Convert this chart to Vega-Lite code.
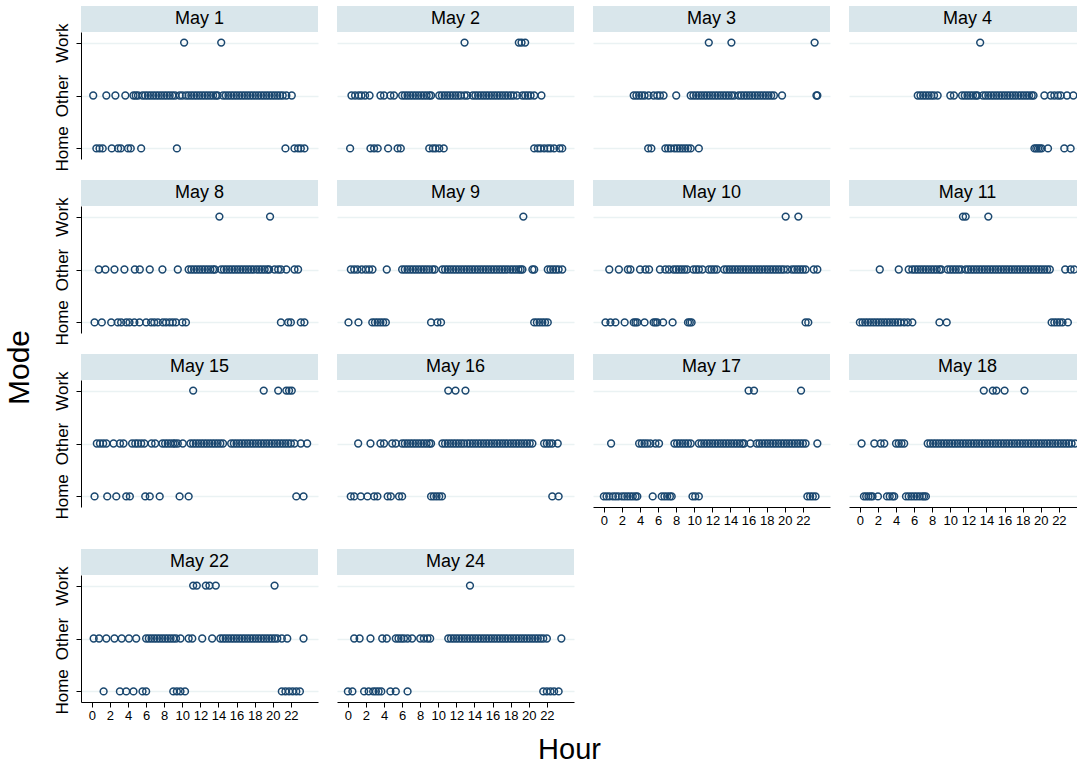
{
"$schema":"https://vega.github.io/schema/vega-lite/v6.json",
"padding":{"left":5,"top":5,"right":0,"bottom":5},
"background":"white",
"title":{"text":"Mode","orient":"left","anchor":"middle","font":"Liberation Sans","fontSize":30,"fontWeight":"normal","color":"black","offset":18,"dx":18},
"data":{"values":[
{"d":"May 1","m":"Work","h":10.2},{"d":"May 1","m":"Work","h":14.3},
{"d":"May 1","m":"Other","h":0.15},{"d":"May 1","m":"Other","h":1.6},{"d":"May 1","m":"Other","h":2.6},{"d":"May 1","m":"Other","h":3.7},{"d":"May 1","m":"Other","h":4.6},{"d":"May 1","m":"Other","h":4.85},{"d":"May 1","m":"Other","h":5.1},{"d":"May 1","m":"Other","h":5.6},{"d":"May 1","m":"Other","h":5.9},{"d":"May 1","m":"Other","h":6.2},{"d":"May 1","m":"Other","h":6.5},{"d":"May 1","m":"Other","h":6.8},{"d":"May 1","m":"Other","h":7.1},{"d":"May 1","m":"Other","h":7.4},{"d":"May 1","m":"Other","h":7.7},{"d":"May 1","m":"Other","h":8.0},{"d":"May 1","m":"Other","h":8.3},{"d":"May 1","m":"Other","h":8.6},{"d":"May 1","m":"Other","h":8.9},{"d":"May 1","m":"Other","h":9.2},{"d":"May 1","m":"Other","h":9.7},{"d":"May 1","m":"Other","h":10.0},{"d":"May 1","m":"Other","h":10.4},{"d":"May 1","m":"Other","h":10.7},{"d":"May 1","m":"Other","h":11.0},{"d":"May 1","m":"Other","h":11.3},{"d":"May 1","m":"Other","h":11.6},{"d":"May 1","m":"Other","h":11.9},{"d":"May 1","m":"Other","h":12.2},{"d":"May 1","m":"Other","h":12.5},{"d":"May 1","m":"Other","h":12.8},{"d":"May 1","m":"Other","h":13.1},{"d":"May 1","m":"Other","h":13.4},{"d":"May 1","m":"Other","h":13.7},{"d":"May 1","m":"Other","h":13.9},{"d":"May 1","m":"Other","h":14.5},{"d":"May 1","m":"Other","h":14.8},{"d":"May 1","m":"Other","h":15.1},{"d":"May 1","m":"Other","h":15.4},{"d":"May 1","m":"Other","h":15.7},{"d":"May 1","m":"Other","h":16.0},{"d":"May 1","m":"Other","h":16.3},{"d":"May 1","m":"Other","h":16.6},{"d":"May 1","m":"Other","h":16.9},{"d":"May 1","m":"Other","h":17.2},{"d":"May 1","m":"Other","h":17.5},{"d":"May 1","m":"Other","h":17.8},{"d":"May 1","m":"Other","h":18.1},{"d":"May 1","m":"Other","h":18.4},{"d":"May 1","m":"Other","h":18.7},{"d":"May 1","m":"Other","h":19.0},{"d":"May 1","m":"Other","h":19.3},{"d":"May 1","m":"Other","h":19.6},{"d":"May 1","m":"Other","h":19.9},{"d":"May 1","m":"Other","h":20.2},{"d":"May 1","m":"Other","h":20.5},{"d":"May 1","m":"Other","h":20.8},{"d":"May 1","m":"Other","h":21.1},{"d":"May 1","m":"Other","h":21.5},{"d":"May 1","m":"Other","h":22.1},
{"d":"May 1","m":"Home","h":0.5},{"d":"May 1","m":"Home","h":0.85},{"d":"May 1","m":"Home","h":1.2},{"d":"May 1","m":"Home","h":2.2},{"d":"May 1","m":"Home","h":2.9},{"d":"May 1","m":"Home","h":3.2},{"d":"May 1","m":"Home","h":4.0},{"d":"May 1","m":"Home","h":4.3},{"d":"May 1","m":"Home","h":5.45},{"d":"May 1","m":"Home","h":9.4},{"d":"May 1","m":"Home","h":21.4},{"d":"May 1","m":"Home","h":22.4},{"d":"May 1","m":"Home","h":22.8},{"d":"May 1","m":"Home","h":23.1},{"d":"May 1","m":"Home","h":23.5},
{"d":"May 2","m":"Work","h":12.9},{"d":"May 2","m":"Work","h":18.9},{"d":"May 2","m":"Work","h":19.2},{"d":"May 2","m":"Work","h":19.6},
{"d":"May 2","m":"Other","h":0.4},{"d":"May 2","m":"Other","h":0.8},{"d":"May 2","m":"Other","h":1.2},{"d":"May 2","m":"Other","h":1.5},{"d":"May 2","m":"Other","h":1.9},{"d":"May 2","m":"Other","h":2.4},{"d":"May 2","m":"Other","h":3.6},{"d":"May 2","m":"Other","h":4.0},{"d":"May 2","m":"Other","h":4.7},{"d":"May 2","m":"Other","h":5.1},{"d":"May 2","m":"Other","h":6.0},{"d":"May 2","m":"Other","h":6.3},{"d":"May 2","m":"Other","h":6.6},{"d":"May 2","m":"Other","h":6.9},{"d":"May 2","m":"Other","h":7.2},{"d":"May 2","m":"Other","h":7.5},{"d":"May 2","m":"Other","h":7.8},{"d":"May 2","m":"Other","h":8.1},{"d":"May 2","m":"Other","h":8.4},{"d":"May 2","m":"Other","h":8.7},{"d":"May 2","m":"Other","h":9.0},{"d":"May 2","m":"Other","h":9.2},{"d":"May 2","m":"Other","h":10.1},{"d":"May 2","m":"Other","h":10.4},{"d":"May 2","m":"Other","h":10.7},{"d":"May 2","m":"Other","h":11.0},{"d":"May 2","m":"Other","h":11.3},{"d":"May 2","m":"Other","h":11.6},{"d":"May 2","m":"Other","h":11.9},{"d":"May 2","m":"Other","h":12.2},{"d":"May 2","m":"Other","h":12.5},{"d":"May 2","m":"Other","h":12.9},{"d":"May 2","m":"Other","h":13.2},{"d":"May 2","m":"Other","h":13.8},{"d":"May 2","m":"Other","h":14.1},{"d":"May 2","m":"Other","h":14.4},{"d":"May 2","m":"Other","h":14.7},{"d":"May 2","m":"Other","h":15.0},{"d":"May 2","m":"Other","h":15.3},{"d":"May 2","m":"Other","h":15.6},{"d":"May 2","m":"Other","h":15.9},{"d":"May 2","m":"Other","h":16.2},{"d":"May 2","m":"Other","h":16.5},{"d":"May 2","m":"Other","h":16.8},{"d":"May 2","m":"Other","h":17.1},{"d":"May 2","m":"Other","h":17.4},{"d":"May 2","m":"Other","h":17.7},{"d":"May 2","m":"Other","h":18.0},{"d":"May 2","m":"Other","h":18.3},{"d":"May 2","m":"Other","h":18.7},{"d":"May 2","m":"Other","h":19.3},{"d":"May 2","m":"Other","h":19.6},{"d":"May 2","m":"Other","h":19.9},{"d":"May 2","m":"Other","h":20.2},{"d":"May 2","m":"Other","h":20.6},{"d":"May 2","m":"Other","h":21.4},
{"d":"May 2","m":"Home","h":0.25},{"d":"May 2","m":"Home","h":2.5},{"d":"May 2","m":"Home","h":2.9},{"d":"May 2","m":"Home","h":3.3},{"d":"May 2","m":"Home","h":4.45},{"d":"May 2","m":"Home","h":5.5},{"d":"May 2","m":"Home","h":5.85},{"d":"May 2","m":"Home","h":9.0},{"d":"May 2","m":"Home","h":9.4},{"d":"May 2","m":"Home","h":9.7},{"d":"May 2","m":"Home","h":10.1},{"d":"May 2","m":"Home","h":10.6},{"d":"May 2","m":"Home","h":20.6},{"d":"May 2","m":"Home","h":21.0},{"d":"May 2","m":"Home","h":21.3},{"d":"May 2","m":"Home","h":21.7},{"d":"May 2","m":"Home","h":22.1},{"d":"May 2","m":"Home","h":22.4},{"d":"May 2","m":"Home","h":22.8},{"d":"May 2","m":"Home","h":23.4},{"d":"May 2","m":"Home","h":23.7},
{"d":"May 3","m":"Work","h":11.6},{"d":"May 3","m":"Work","h":14.1},{"d":"May 3","m":"Work","h":23.3},
{"d":"May 3","m":"Other","h":3.3},{"d":"May 3","m":"Other","h":3.6},{"d":"May 3","m":"Other","h":3.9},{"d":"May 3","m":"Other","h":4.2},{"d":"May 3","m":"Other","h":4.5},{"d":"May 3","m":"Other","h":4.95},{"d":"May 3","m":"Other","h":5.5},{"d":"May 3","m":"Other","h":5.9},{"d":"May 3","m":"Other","h":6.2},{"d":"May 3","m":"Other","h":6.6},{"d":"May 3","m":"Other","h":8.0},{"d":"May 3","m":"Other","h":9.6},{"d":"May 3","m":"Other","h":9.9},{"d":"May 3","m":"Other","h":10.2},{"d":"May 3","m":"Other","h":10.5},{"d":"May 3","m":"Other","h":10.8},{"d":"May 3","m":"Other","h":11.1},{"d":"May 3","m":"Other","h":11.4},{"d":"May 3","m":"Other","h":11.7},{"d":"May 3","m":"Other","h":12.0},{"d":"May 3","m":"Other","h":12.3},{"d":"May 3","m":"Other","h":12.6},{"d":"May 3","m":"Other","h":12.9},{"d":"May 3","m":"Other","h":13.2},{"d":"May 3","m":"Other","h":13.5},{"d":"May 3","m":"Other","h":13.8},{"d":"May 3","m":"Other","h":14.1},{"d":"May 3","m":"Other","h":14.4},{"d":"May 3","m":"Other","h":14.9},{"d":"May 3","m":"Other","h":15.2},{"d":"May 3","m":"Other","h":15.5},{"d":"May 3","m":"Other","h":15.8},{"d":"May 3","m":"Other","h":16.1},{"d":"May 3","m":"Other","h":16.4},{"d":"May 3","m":"Other","h":16.7},{"d":"May 3","m":"Other","h":17.0},{"d":"May 3","m":"Other","h":17.3},{"d":"May 3","m":"Other","h":17.6},{"d":"May 3","m":"Other","h":17.9},{"d":"May 3","m":"Other","h":18.2},{"d":"May 3","m":"Other","h":18.5},{"d":"May 3","m":"Other","h":18.8},{"d":"May 3","m":"Other","h":19.7},{"d":"May 3","m":"Other","h":23.5},{"d":"May 3","m":"Other","h":23.6},
{"d":"May 3","m":"Home","h":4.9},{"d":"May 3","m":"Home","h":5.25},{"d":"May 3","m":"Home","h":6.8},{"d":"May 3","m":"Home","h":7.1},{"d":"May 3","m":"Home","h":7.4},{"d":"May 3","m":"Home","h":7.8},{"d":"May 3","m":"Home","h":8.1},{"d":"May 3","m":"Home","h":8.4},{"d":"May 3","m":"Home","h":8.7},{"d":"May 3","m":"Home","h":9.0},{"d":"May 3","m":"Home","h":9.3},{"d":"May 3","m":"Home","h":9.6},{"d":"May 3","m":"Home","h":10.5},
{"d":"May 4","m":"Work","h":13.3},
{"d":"May 4","m":"Other","h":6.4},{"d":"May 4","m":"Other","h":6.7},{"d":"May 4","m":"Other","h":7.0},{"d":"May 4","m":"Other","h":7.3},{"d":"May 4","m":"Other","h":7.6},{"d":"May 4","m":"Other","h":7.9},{"d":"May 4","m":"Other","h":8.2},{"d":"May 4","m":"Other","h":8.6},{"d":"May 4","m":"Other","h":10.0},{"d":"May 4","m":"Other","h":10.4},{"d":"May 4","m":"Other","h":11.3},{"d":"May 4","m":"Other","h":11.6},{"d":"May 4","m":"Other","h":11.9},{"d":"May 4","m":"Other","h":12.2},{"d":"May 4","m":"Other","h":12.5},{"d":"May 4","m":"Other","h":12.8},{"d":"May 4","m":"Other","h":13.0},{"d":"May 4","m":"Other","h":13.6},{"d":"May 4","m":"Other","h":13.9},{"d":"May 4","m":"Other","h":14.2},{"d":"May 4","m":"Other","h":14.5},{"d":"May 4","m":"Other","h":14.8},{"d":"May 4","m":"Other","h":15.1},{"d":"May 4","m":"Other","h":15.4},{"d":"May 4","m":"Other","h":15.7},{"d":"May 4","m":"Other","h":16.0},{"d":"May 4","m":"Other","h":16.3},{"d":"May 4","m":"Other","h":16.6},{"d":"May 4","m":"Other","h":16.9},{"d":"May 4","m":"Other","h":17.2},{"d":"May 4","m":"Other","h":17.5},{"d":"May 4","m":"Other","h":17.8},{"d":"May 4","m":"Other","h":18.1},{"d":"May 4","m":"Other","h":18.4},{"d":"May 4","m":"Other","h":18.7},{"d":"May 4","m":"Other","h":19.0},{"d":"May 4","m":"Other","h":19.2},{"d":"May 4","m":"Other","h":20.4},{"d":"May 4","m":"Other","h":21.1},{"d":"May 4","m":"Other","h":21.5},{"d":"May 4","m":"Other","h":21.9},{"d":"May 4","m":"Other","h":22.2},{"d":"May 4","m":"Other","h":22.9},{"d":"May 4","m":"Other","h":23.6},
{"d":"May 4","m":"Home","h":19.3},{"d":"May 4","m":"Home","h":19.5},{"d":"May 4","m":"Home","h":19.7},{"d":"May 4","m":"Home","h":19.9},{"d":"May 4","m":"Home","h":20.1},{"d":"May 4","m":"Home","h":20.8},{"d":"May 4","m":"Home","h":22.6},{"d":"May 4","m":"Home","h":23.3},
{"d":"May 8","m":"Work","h":14.1},{"d":"May 8","m":"Work","h":19.7},
{"d":"May 8","m":"Other","h":0.77},{"d":"May 8","m":"Other","h":1.5},{"d":"May 8","m":"Other","h":2.5},{"d":"May 8","m":"Other","h":3.6},{"d":"May 8","m":"Other","h":4.75},{"d":"May 8","m":"Other","h":5.3},{"d":"May 8","m":"Other","h":6.4},{"d":"May 8","m":"Other","h":7.8},{"d":"May 8","m":"Other","h":9.5},{"d":"May 8","m":"Other","h":10.7},{"d":"May 8","m":"Other","h":11.0},{"d":"May 8","m":"Other","h":11.3},{"d":"May 8","m":"Other","h":11.6},{"d":"May 8","m":"Other","h":11.9},{"d":"May 8","m":"Other","h":12.2},{"d":"May 8","m":"Other","h":12.5},{"d":"May 8","m":"Other","h":12.8},{"d":"May 8","m":"Other","h":13.1},{"d":"May 8","m":"Other","h":13.4},{"d":"May 8","m":"Other","h":13.6},{"d":"May 8","m":"Other","h":14.3},{"d":"May 8","m":"Other","h":14.6},{"d":"May 8","m":"Other","h":14.9},{"d":"May 8","m":"Other","h":15.2},{"d":"May 8","m":"Other","h":15.5},{"d":"May 8","m":"Other","h":15.8},{"d":"May 8","m":"Other","h":16.1},{"d":"May 8","m":"Other","h":16.4},{"d":"May 8","m":"Other","h":16.7},{"d":"May 8","m":"Other","h":17.0},{"d":"May 8","m":"Other","h":17.3},{"d":"May 8","m":"Other","h":17.6},{"d":"May 8","m":"Other","h":17.9},{"d":"May 8","m":"Other","h":18.2},{"d":"May 8","m":"Other","h":18.5},{"d":"May 8","m":"Other","h":18.8},{"d":"May 8","m":"Other","h":19.1},{"d":"May 8","m":"Other","h":19.4},{"d":"May 8","m":"Other","h":19.6},{"d":"May 8","m":"Other","h":20.2},{"d":"May 8","m":"Other","h":20.6},{"d":"May 8","m":"Other","h":20.9},{"d":"May 8","m":"Other","h":21.5},{"d":"May 8","m":"Other","h":22.4},{"d":"May 8","m":"Other","h":22.8},
{"d":"May 8","m":"Home","h":0.3},{"d":"May 8","m":"Home","h":1.1},{"d":"May 8","m":"Home","h":2.14},{"d":"May 8","m":"Home","h":2.87},{"d":"May 8","m":"Home","h":3.24},{"d":"May 8","m":"Home","h":3.8},{"d":"May 8","m":"Home","h":4.16},{"d":"May 8","m":"Home","h":4.7},{"d":"May 8","m":"Home","h":5.27},{"d":"May 8","m":"Home","h":6.0},{"d":"May 8","m":"Home","h":6.55},{"d":"May 8","m":"Home","h":6.9},{"d":"May 8","m":"Home","h":7.3},{"d":"May 8","m":"Home","h":7.85},{"d":"May 8","m":"Home","h":8.2},{"d":"May 8","m":"Home","h":8.6},{"d":"May 8","m":"Home","h":8.95},{"d":"May 8","m":"Home","h":9.3},{"d":"May 8","m":"Home","h":10.0},{"d":"May 8","m":"Home","h":10.4},{"d":"May 8","m":"Home","h":20.9},{"d":"May 8","m":"Home","h":21.7},{"d":"May 8","m":"Home","h":22.0},{"d":"May 8","m":"Home","h":23.1},{"d":"May 8","m":"Home","h":23.5},
{"d":"May 9","m":"Work","h":19.4},
{"d":"May 9","m":"Other","h":0.33},{"d":"May 9","m":"Other","h":0.7},{"d":"May 9","m":"Other","h":1.06},{"d":"May 9","m":"Other","h":1.54},{"d":"May 9","m":"Other","h":1.98},{"d":"May 9","m":"Other","h":2.35},{"d":"May 9","m":"Other","h":2.72},{"d":"May 9","m":"Other","h":4.3},{"d":"May 9","m":"Other","h":6.0},{"d":"May 9","m":"Other","h":6.3},{"d":"May 9","m":"Other","h":6.6},{"d":"May 9","m":"Other","h":6.9},{"d":"May 9","m":"Other","h":7.2},{"d":"May 9","m":"Other","h":7.5},{"d":"May 9","m":"Other","h":7.8},{"d":"May 9","m":"Other","h":8.1},{"d":"May 9","m":"Other","h":8.4},{"d":"May 9","m":"Other","h":8.7},{"d":"May 9","m":"Other","h":9.0},{"d":"May 9","m":"Other","h":9.35},{"d":"May 9","m":"Other","h":9.6},{"d":"May 9","m":"Other","h":10.45},{"d":"May 9","m":"Other","h":10.75},{"d":"May 9","m":"Other","h":11.05},{"d":"May 9","m":"Other","h":11.35},{"d":"May 9","m":"Other","h":11.65},{"d":"May 9","m":"Other","h":11.95},{"d":"May 9","m":"Other","h":12.25},{"d":"May 9","m":"Other","h":12.55},{"d":"May 9","m":"Other","h":12.85},{"d":"May 9","m":"Other","h":13.15},{"d":"May 9","m":"Other","h":13.45},{"d":"May 9","m":"Other","h":13.75},{"d":"May 9","m":"Other","h":14.05},{"d":"May 9","m":"Other","h":14.35},{"d":"May 9","m":"Other","h":14.65},{"d":"May 9","m":"Other","h":14.95},{"d":"May 9","m":"Other","h":15.25},{"d":"May 9","m":"Other","h":15.55},{"d":"May 9","m":"Other","h":15.85},{"d":"May 9","m":"Other","h":16.15},{"d":"May 9","m":"Other","h":16.45},{"d":"May 9","m":"Other","h":16.75},{"d":"May 9","m":"Other","h":17.05},{"d":"May 9","m":"Other","h":17.35},{"d":"May 9","m":"Other","h":17.65},{"d":"May 9","m":"Other","h":17.95},{"d":"May 9","m":"Other","h":18.25},{"d":"May 9","m":"Other","h":18.55},{"d":"May 9","m":"Other","h":18.85},{"d":"May 9","m":"Other","h":19.1},{"d":"May 9","m":"Other","h":19.3},{"d":"May 9","m":"Other","h":20.4},{"d":"May 9","m":"Other","h":20.6},{"d":"May 9","m":"Other","h":22.1},{"d":"May 9","m":"Other","h":22.4},{"d":"May 9","m":"Other","h":22.7},{"d":"May 9","m":"Other","h":23.0},{"d":"May 9","m":"Other","h":23.3},{"d":"May 9","m":"Other","h":23.7},
{"d":"May 9","m":"Home","h":0.07},{"d":"May 9","m":"Home","h":1.17},{"d":"May 9","m":"Home","h":2.7},{"d":"May 9","m":"Home","h":3.0},{"d":"May 9","m":"Home","h":3.3},{"d":"May 9","m":"Home","h":3.6},{"d":"May 9","m":"Home","h":3.9},{"d":"May 9","m":"Home","h":4.2},{"d":"May 9","m":"Home","h":9.2},{"d":"May 9","m":"Home","h":9.9},{"d":"May 9","m":"Home","h":10.3},{"d":"May 9","m":"Home","h":20.6},{"d":"May 9","m":"Home","h":20.9},{"d":"May 9","m":"Home","h":21.2},{"d":"May 9","m":"Home","h":21.5},{"d":"May 9","m":"Home","h":21.8},{"d":"May 9","m":"Home","h":22.1},
{"d":"May 10","m":"Work","h":20.1},{"d":"May 10","m":"Work","h":21.5},
{"d":"May 10","m":"Other","h":0.6},{"d":"May 10","m":"Other","h":1.66},{"d":"May 10","m":"Other","h":2.65},{"d":"May 10","m":"Other","h":2.94},{"d":"May 10","m":"Other","h":4.0},{"d":"May 10","m":"Other","h":4.6},{"d":"May 10","m":"Other","h":5.0},{"d":"May 10","m":"Other","h":6.2},{"d":"May 10","m":"Other","h":6.8},{"d":"May 10","m":"Other","h":7.2},{"d":"May 10","m":"Other","h":7.7},{"d":"May 10","m":"Other","h":8.0},{"d":"May 10","m":"Other","h":8.3},{"d":"May 10","m":"Other","h":8.6},{"d":"May 10","m":"Other","h":8.9},{"d":"May 10","m":"Other","h":9.2},{"d":"May 10","m":"Other","h":9.9},{"d":"May 10","m":"Other","h":10.2},{"d":"May 10","m":"Other","h":10.5},{"d":"May 10","m":"Other","h":10.9},{"d":"May 10","m":"Other","h":11.6},{"d":"May 10","m":"Other","h":11.9},{"d":"May 10","m":"Other","h":12.2},{"d":"May 10","m":"Other","h":12.5},{"d":"May 10","m":"Other","h":13.3},{"d":"May 10","m":"Other","h":13.6},{"d":"May 10","m":"Other","h":13.9},{"d":"May 10","m":"Other","h":14.2},{"d":"May 10","m":"Other","h":14.5},{"d":"May 10","m":"Other","h":14.8},{"d":"May 10","m":"Other","h":15.1},{"d":"May 10","m":"Other","h":15.4},{"d":"May 10","m":"Other","h":15.7},{"d":"May 10","m":"Other","h":16.0},{"d":"May 10","m":"Other","h":16.3},{"d":"May 10","m":"Other","h":16.6},{"d":"May 10","m":"Other","h":16.9},{"d":"May 10","m":"Other","h":17.2},{"d":"May 10","m":"Other","h":17.5},{"d":"May 10","m":"Other","h":17.8},{"d":"May 10","m":"Other","h":18.1},{"d":"May 10","m":"Other","h":18.4},{"d":"May 10","m":"Other","h":18.7},{"d":"May 10","m":"Other","h":19.0},{"d":"May 10","m":"Other","h":19.3},{"d":"May 10","m":"Other","h":19.6},{"d":"May 10","m":"Other","h":19.9},{"d":"May 10","m":"Other","h":20.3},{"d":"May 10","m":"Other","h":20.8},{"d":"May 10","m":"Other","h":21.1},{"d":"May 10","m":"Other","h":21.4},{"d":"May 10","m":"Other","h":21.7},{"d":"May 10","m":"Other","h":22.0},{"d":"May 10","m":"Other","h":22.3},{"d":"May 10","m":"Other","h":23.2},{"d":"May 10","m":"Other","h":23.6},
{"d":"May 10","m":"Home","h":0.18},{"d":"May 10","m":"Home","h":0.73},{"d":"May 10","m":"Home","h":1.28},{"d":"May 10","m":"Home","h":2.3},{"d":"May 10","m":"Home","h":3.3},{"d":"May 10","m":"Home","h":3.5},{"d":"May 10","m":"Home","h":3.7},{"d":"May 10","m":"Home","h":4.5},{"d":"May 10","m":"Home","h":5.5},{"d":"May 10","m":"Home","h":5.7},{"d":"May 10","m":"Home","h":5.9},{"d":"May 10","m":"Home","h":6.55},{"d":"May 10","m":"Home","h":7.6},{"d":"May 10","m":"Home","h":9.3},{"d":"May 10","m":"Home","h":9.5},{"d":"May 10","m":"Home","h":9.7},{"d":"May 10","m":"Home","h":22.3},{"d":"May 10","m":"Home","h":22.6},
{"d":"May 11","m":"Work","h":11.4},{"d":"May 11","m":"Work","h":11.7},{"d":"May 11","m":"Work","h":14.2},
{"d":"May 11","m":"Other","h":2.2},{"d":"May 11","m":"Other","h":4.3},{"d":"May 11","m":"Other","h":5.4},{"d":"May 11","m":"Other","h":5.8},{"d":"May 11","m":"Other","h":6.1},{"d":"May 11","m":"Other","h":6.4},{"d":"May 11","m":"Other","h":6.7},{"d":"May 11","m":"Other","h":7.0},{"d":"May 11","m":"Other","h":7.3},{"d":"May 11","m":"Other","h":7.6},{"d":"May 11","m":"Other","h":7.9},{"d":"May 11","m":"Other","h":8.2},{"d":"May 11","m":"Other","h":8.5},{"d":"May 11","m":"Other","h":8.8},{"d":"May 11","m":"Other","h":9.0},{"d":"May 11","m":"Other","h":9.7},{"d":"May 11","m":"Other","h":10.0},{"d":"May 11","m":"Other","h":10.3},{"d":"May 11","m":"Other","h":10.6},{"d":"May 11","m":"Other","h":10.9},{"d":"May 11","m":"Other","h":11.2},{"d":"May 11","m":"Other","h":11.7},{"d":"May 11","m":"Other","h":12.0},{"d":"May 11","m":"Other","h":12.3},{"d":"May 11","m":"Other","h":12.6},{"d":"May 11","m":"Other","h":12.9},{"d":"May 11","m":"Other","h":13.2},{"d":"May 11","m":"Other","h":13.5},{"d":"May 11","m":"Other","h":13.8},{"d":"May 11","m":"Other","h":14.1},{"d":"May 11","m":"Other","h":14.4},{"d":"May 11","m":"Other","h":14.7},{"d":"May 11","m":"Other","h":15.0},{"d":"May 11","m":"Other","h":15.3},{"d":"May 11","m":"Other","h":15.6},{"d":"May 11","m":"Other","h":15.9},{"d":"May 11","m":"Other","h":16.2},{"d":"May 11","m":"Other","h":16.5},{"d":"May 11","m":"Other","h":16.8},{"d":"May 11","m":"Other","h":17.1},{"d":"May 11","m":"Other","h":17.4},{"d":"May 11","m":"Other","h":17.7},{"d":"May 11","m":"Other","h":18.0},{"d":"May 11","m":"Other","h":18.3},{"d":"May 11","m":"Other","h":18.6},{"d":"May 11","m":"Other","h":18.9},{"d":"May 11","m":"Other","h":19.2},{"d":"May 11","m":"Other","h":19.5},{"d":"May 11","m":"Other","h":19.8},{"d":"May 11","m":"Other","h":20.1},{"d":"May 11","m":"Other","h":20.4},{"d":"May 11","m":"Other","h":20.7},{"d":"May 11","m":"Other","h":21.0},{"d":"May 11","m":"Other","h":22.7},{"d":"May 11","m":"Other","h":23.3},{"d":"May 11","m":"Other","h":23.7},
{"d":"May 11","m":"Home","h":0.0},{"d":"May 11","m":"Home","h":0.3},{"d":"May 11","m":"Home","h":0.6},{"d":"May 11","m":"Home","h":0.9},{"d":"May 11","m":"Home","h":1.2},{"d":"May 11","m":"Home","h":1.5},{"d":"May 11","m":"Home","h":1.8},{"d":"May 11","m":"Home","h":2.1},{"d":"May 11","m":"Home","h":2.4},{"d":"May 11","m":"Home","h":2.7},{"d":"May 11","m":"Home","h":3.0},{"d":"May 11","m":"Home","h":3.3},{"d":"May 11","m":"Home","h":3.6},{"d":"May 11","m":"Home","h":3.9},{"d":"May 11","m":"Home","h":4.2},{"d":"May 11","m":"Home","h":4.5},{"d":"May 11","m":"Home","h":4.9},{"d":"May 11","m":"Home","h":5.3},{"d":"May 11","m":"Home","h":5.8},{"d":"May 11","m":"Home","h":8.8},{"d":"May 11","m":"Home","h":9.6},{"d":"May 11","m":"Home","h":21.2},{"d":"May 11","m":"Home","h":21.5},{"d":"May 11","m":"Home","h":21.8},{"d":"May 11","m":"Home","h":22.1},{"d":"May 11","m":"Home","h":22.4},{"d":"May 11","m":"Home","h":23.0},
{"d":"May 15","m":"Work","h":11.2},{"d":"May 15","m":"Work","h":19.0},{"d":"May 15","m":"Work","h":20.6},{"d":"May 15","m":"Work","h":21.5},{"d":"May 15","m":"Work","h":21.8},{"d":"May 15","m":"Work","h":22.1},
{"d":"May 15","m":"Other","h":0.55},{"d":"May 15","m":"Other","h":0.9},{"d":"May 15","m":"Other","h":1.25},{"d":"May 15","m":"Other","h":1.6},{"d":"May 15","m":"Other","h":2.4},{"d":"May 15","m":"Other","h":3.1},{"d":"May 15","m":"Other","h":3.5},{"d":"May 15","m":"Other","h":4.45},{"d":"May 15","m":"Other","h":4.8},{"d":"May 15","m":"Other","h":5.1},{"d":"May 15","m":"Other","h":5.45},{"d":"May 15","m":"Other","h":5.8},{"d":"May 15","m":"Other","h":6.6},{"d":"May 15","m":"Other","h":7.0},{"d":"May 15","m":"Other","h":7.8},{"d":"May 15","m":"Other","h":8.1},{"d":"May 15","m":"Other","h":8.4},{"d":"May 15","m":"Other","h":8.7},{"d":"May 15","m":"Other","h":9.0},{"d":"May 15","m":"Other","h":9.2},{"d":"May 15","m":"Other","h":9.5},{"d":"May 15","m":"Other","h":10.05},{"d":"May 15","m":"Other","h":10.9},{"d":"May 15","m":"Other","h":11.2},{"d":"May 15","m":"Other","h":11.5},{"d":"May 15","m":"Other","h":11.8},{"d":"May 15","m":"Other","h":12.1},{"d":"May 15","m":"Other","h":12.4},{"d":"May 15","m":"Other","h":12.7},{"d":"May 15","m":"Other","h":13.0},{"d":"May 15","m":"Other","h":13.3},{"d":"May 15","m":"Other","h":13.6},{"d":"May 15","m":"Other","h":13.9},{"d":"May 15","m":"Other","h":14.2},{"d":"May 15","m":"Other","h":14.5},{"d":"May 15","m":"Other","h":15.4},{"d":"May 15","m":"Other","h":15.7},{"d":"May 15","m":"Other","h":16.0},{"d":"May 15","m":"Other","h":16.3},{"d":"May 15","m":"Other","h":16.6},{"d":"May 15","m":"Other","h":16.9},{"d":"May 15","m":"Other","h":17.2},{"d":"May 15","m":"Other","h":17.5},{"d":"May 15","m":"Other","h":17.8},{"d":"May 15","m":"Other","h":18.1},{"d":"May 15","m":"Other","h":18.4},{"d":"May 15","m":"Other","h":18.7},{"d":"May 15","m":"Other","h":19.0},{"d":"May 15","m":"Other","h":19.3},{"d":"May 15","m":"Other","h":19.6},{"d":"May 15","m":"Other","h":19.9},{"d":"May 15","m":"Other","h":20.2},{"d":"May 15","m":"Other","h":20.5},{"d":"May 15","m":"Other","h":20.8},{"d":"May 15","m":"Other","h":21.1},{"d":"May 15","m":"Other","h":21.4},{"d":"May 15","m":"Other","h":21.7},{"d":"May 15","m":"Other","h":22.0},{"d":"May 15","m":"Other","h":22.4},{"d":"May 15","m":"Other","h":23.1},{"d":"May 15","m":"Other","h":23.8},
{"d":"May 15","m":"Home","h":0.3},{"d":"May 15","m":"Home","h":1.7},{"d":"May 15","m":"Home","h":2.7},{"d":"May 15","m":"Home","h":3.8},{"d":"May 15","m":"Home","h":4.2},{"d":"May 15","m":"Home","h":5.9},{"d":"May 15","m":"Home","h":6.4},{"d":"May 15","m":"Home","h":7.5},{"d":"May 15","m":"Home","h":9.7},{"d":"May 15","m":"Home","h":10.7},{"d":"May 15","m":"Home","h":22.6},{"d":"May 15","m":"Home","h":23.4},
{"d":"May 16","m":"Work","h":11.1},{"d":"May 16","m":"Work","h":11.9},{"d":"May 16","m":"Work","h":13.0},
{"d":"May 16","m":"Other","h":1.14},{"d":"May 16","m":"Other","h":2.5},{"d":"May 16","m":"Other","h":3.6},{"d":"May 16","m":"Other","h":4.0},{"d":"May 16","m":"Other","h":4.9},{"d":"May 16","m":"Other","h":5.3},{"d":"May 16","m":"Other","h":6.0},{"d":"May 16","m":"Other","h":6.3},{"d":"May 16","m":"Other","h":6.6},{"d":"May 16","m":"Other","h":6.9},{"d":"May 16","m":"Other","h":7.2},{"d":"May 16","m":"Other","h":7.5},{"d":"May 16","m":"Other","h":7.8},{"d":"May 16","m":"Other","h":8.1},{"d":"May 16","m":"Other","h":8.4},{"d":"May 16","m":"Other","h":8.7},{"d":"May 16","m":"Other","h":9.0},{"d":"May 16","m":"Other","h":9.2},{"d":"May 16","m":"Other","h":10.45},{"d":"May 16","m":"Other","h":10.75},{"d":"May 16","m":"Other","h":11.05},{"d":"May 16","m":"Other","h":11.35},{"d":"May 16","m":"Other","h":11.65},{"d":"May 16","m":"Other","h":11.95},{"d":"May 16","m":"Other","h":12.25},{"d":"May 16","m":"Other","h":12.55},{"d":"May 16","m":"Other","h":12.85},{"d":"May 16","m":"Other","h":13.2},{"d":"May 16","m":"Other","h":13.5},{"d":"May 16","m":"Other","h":13.8},{"d":"May 16","m":"Other","h":14.1},{"d":"May 16","m":"Other","h":14.4},{"d":"May 16","m":"Other","h":14.7},{"d":"May 16","m":"Other","h":15.0},{"d":"May 16","m":"Other","h":15.3},{"d":"May 16","m":"Other","h":15.6},{"d":"May 16","m":"Other","h":15.9},{"d":"May 16","m":"Other","h":16.2},{"d":"May 16","m":"Other","h":16.5},{"d":"May 16","m":"Other","h":16.8},{"d":"May 16","m":"Other","h":17.1},{"d":"May 16","m":"Other","h":17.4},{"d":"May 16","m":"Other","h":17.7},{"d":"May 16","m":"Other","h":18.0},{"d":"May 16","m":"Other","h":18.3},{"d":"May 16","m":"Other","h":18.6},{"d":"May 16","m":"Other","h":18.9},{"d":"May 16","m":"Other","h":19.2},{"d":"May 16","m":"Other","h":19.5},{"d":"May 16","m":"Other","h":19.8},{"d":"May 16","m":"Other","h":20.1},{"d":"May 16","m":"Other","h":20.4},{"d":"May 16","m":"Other","h":21.7},{"d":"May 16","m":"Other","h":22.0},{"d":"May 16","m":"Other","h":22.3},{"d":"May 16","m":"Other","h":22.6},{"d":"May 16","m":"Other","h":23.2},
{"d":"May 16","m":"Home","h":0.32},{"d":"May 16","m":"Home","h":0.7},{"d":"May 16","m":"Home","h":1.43},{"d":"May 16","m":"Home","h":2.17},{"d":"May 16","m":"Home","h":2.9},{"d":"May 16","m":"Home","h":3.27},{"d":"May 16","m":"Home","h":4.4},{"d":"May 16","m":"Home","h":4.75},{"d":"May 16","m":"Home","h":5.66},{"d":"May 16","m":"Home","h":6.0},{"d":"May 16","m":"Home","h":9.2},{"d":"May 16","m":"Home","h":9.5},{"d":"May 16","m":"Home","h":9.8},{"d":"May 16","m":"Home","h":10.1},{"d":"May 16","m":"Home","h":10.4},{"d":"May 16","m":"Home","h":22.6},{"d":"May 16","m":"Home","h":23.3},
{"d":"May 17","m":"Work","h":16.0},{"d":"May 17","m":"Work","h":16.6},{"d":"May 17","m":"Work","h":21.8},
{"d":"May 17","m":"Other","h":0.8},{"d":"May 17","m":"Other","h":3.9},{"d":"May 17","m":"Other","h":4.2},{"d":"May 17","m":"Other","h":4.5},{"d":"May 17","m":"Other","h":4.8},{"d":"May 17","m":"Other","h":5.15},{"d":"May 17","m":"Other","h":5.7},{"d":"May 17","m":"Other","h":6.1},{"d":"May 17","m":"Other","h":7.8},{"d":"May 17","m":"Other","h":8.1},{"d":"May 17","m":"Other","h":8.4},{"d":"May 17","m":"Other","h":8.7},{"d":"May 17","m":"Other","h":9.0},{"d":"May 17","m":"Other","h":9.3},{"d":"May 17","m":"Other","h":9.6},{"d":"May 17","m":"Other","h":10.5},{"d":"May 17","m":"Other","h":10.8},{"d":"May 17","m":"Other","h":11.1},{"d":"May 17","m":"Other","h":11.4},{"d":"May 17","m":"Other","h":11.7},{"d":"May 17","m":"Other","h":12.0},{"d":"May 17","m":"Other","h":12.3},{"d":"May 17","m":"Other","h":12.6},{"d":"May 17","m":"Other","h":12.9},{"d":"May 17","m":"Other","h":13.2},{"d":"May 17","m":"Other","h":13.5},{"d":"May 17","m":"Other","h":13.8},{"d":"May 17","m":"Other","h":14.1},{"d":"May 17","m":"Other","h":14.4},{"d":"May 17","m":"Other","h":14.7},{"d":"May 17","m":"Other","h":15.0},{"d":"May 17","m":"Other","h":15.3},{"d":"May 17","m":"Other","h":15.5},{"d":"May 17","m":"Other","h":16.2},{"d":"May 17","m":"Other","h":16.9},{"d":"May 17","m":"Other","h":17.2},{"d":"May 17","m":"Other","h":17.5},{"d":"May 17","m":"Other","h":17.8},{"d":"May 17","m":"Other","h":18.1},{"d":"May 17","m":"Other","h":18.4},{"d":"May 17","m":"Other","h":18.7},{"d":"May 17","m":"Other","h":19.0},{"d":"May 17","m":"Other","h":19.3},{"d":"May 17","m":"Other","h":19.6},{"d":"May 17","m":"Other","h":19.9},{"d":"May 17","m":"Other","h":20.2},{"d":"May 17","m":"Other","h":20.5},{"d":"May 17","m":"Other","h":20.8},{"d":"May 17","m":"Other","h":21.1},{"d":"May 17","m":"Other","h":21.4},{"d":"May 17","m":"Other","h":21.7},{"d":"May 17","m":"Other","h":22.0},{"d":"May 17","m":"Other","h":22.3},{"d":"May 17","m":"Other","h":23.6},
{"d":"May 17","m":"Home","h":0.0},{"d":"May 17","m":"Home","h":0.3},{"d":"May 17","m":"Home","h":0.6},{"d":"May 17","m":"Home","h":1.0},{"d":"May 17","m":"Home","h":1.3},{"d":"May 17","m":"Home","h":1.6},{"d":"May 17","m":"Home","h":2.0},{"d":"May 17","m":"Home","h":2.3},{"d":"May 17","m":"Home","h":2.6},{"d":"May 17","m":"Home","h":2.9},{"d":"May 17","m":"Home","h":3.2},{"d":"May 17","m":"Home","h":3.5},{"d":"May 17","m":"Home","h":3.7},{"d":"May 17","m":"Home","h":5.4},{"d":"May 17","m":"Home","h":6.4},{"d":"May 17","m":"Home","h":6.7},{"d":"May 17","m":"Home","h":7.0},{"d":"May 17","m":"Home","h":7.3},{"d":"May 17","m":"Home","h":7.5},{"d":"May 17","m":"Home","h":9.8},{"d":"May 17","m":"Home","h":10.1},{"d":"May 17","m":"Home","h":10.5},{"d":"May 17","m":"Home","h":22.5},{"d":"May 17","m":"Home","h":22.8},{"d":"May 17","m":"Home","h":23.1},{"d":"May 17","m":"Home","h":23.4},
{"d":"May 18","m":"Work","h":13.7},{"d":"May 18","m":"Work","h":14.7},{"d":"May 18","m":"Work","h":15.1},{"d":"May 18","m":"Work","h":16.0},{"d":"May 18","m":"Work","h":18.2},
{"d":"May 18","m":"Other","h":0.19},{"d":"May 18","m":"Other","h":1.6},{"d":"May 18","m":"Other","h":2.3},{"d":"May 18","m":"Other","h":2.7},{"d":"May 18","m":"Other","h":4.0},{"d":"May 18","m":"Other","h":4.3},{"d":"May 18","m":"Other","h":4.6},{"d":"May 18","m":"Other","h":4.9},{"d":"May 18","m":"Other","h":7.5},{"d":"May 18","m":"Other","h":7.8},{"d":"May 18","m":"Other","h":8.1},{"d":"May 18","m":"Other","h":8.4},{"d":"May 18","m":"Other","h":8.7},{"d":"May 18","m":"Other","h":9.0},{"d":"May 18","m":"Other","h":9.3},{"d":"May 18","m":"Other","h":9.6},{"d":"May 18","m":"Other","h":9.9},{"d":"May 18","m":"Other","h":10.2},{"d":"May 18","m":"Other","h":10.5},{"d":"May 18","m":"Other","h":10.8},{"d":"May 18","m":"Other","h":11.1},{"d":"May 18","m":"Other","h":11.4},{"d":"May 18","m":"Other","h":11.7},{"d":"May 18","m":"Other","h":12.0},{"d":"May 18","m":"Other","h":12.3},{"d":"May 18","m":"Other","h":12.6},{"d":"May 18","m":"Other","h":12.9},{"d":"May 18","m":"Other","h":13.2},{"d":"May 18","m":"Other","h":13.5},{"d":"May 18","m":"Other","h":13.8},{"d":"May 18","m":"Other","h":14.1},{"d":"May 18","m":"Other","h":14.4},{"d":"May 18","m":"Other","h":14.7},{"d":"May 18","m":"Other","h":15.0},{"d":"May 18","m":"Other","h":15.3},{"d":"May 18","m":"Other","h":15.6},{"d":"May 18","m":"Other","h":15.9},{"d":"May 18","m":"Other","h":16.2},{"d":"May 18","m":"Other","h":16.5},{"d":"May 18","m":"Other","h":16.8},{"d":"May 18","m":"Other","h":17.1},{"d":"May 18","m":"Other","h":17.4},{"d":"May 18","m":"Other","h":17.7},{"d":"May 18","m":"Other","h":18.0},{"d":"May 18","m":"Other","h":18.3},{"d":"May 18","m":"Other","h":18.6},{"d":"May 18","m":"Other","h":18.9},{"d":"May 18","m":"Other","h":19.2},{"d":"May 18","m":"Other","h":19.5},{"d":"May 18","m":"Other","h":19.8},{"d":"May 18","m":"Other","h":20.1},{"d":"May 18","m":"Other","h":20.4},{"d":"May 18","m":"Other","h":20.7},{"d":"May 18","m":"Other","h":21.0},{"d":"May 18","m":"Other","h":21.3},{"d":"May 18","m":"Other","h":21.6},{"d":"May 18","m":"Other","h":21.9},{"d":"May 18","m":"Other","h":22.2},{"d":"May 18","m":"Other","h":22.5},{"d":"May 18","m":"Other","h":22.8},{"d":"May 18","m":"Other","h":23.1},{"d":"May 18","m":"Other","h":23.4},{"d":"May 18","m":"Other","h":23.8},
{"d":"May 18","m":"Home","h":0.45},{"d":"May 18","m":"Home","h":0.7},{"d":"May 18","m":"Home","h":0.95},{"d":"May 18","m":"Home","h":1.2},{"d":"May 18","m":"Home","h":1.4},{"d":"May 18","m":"Home","h":2.0},{"d":"May 18","m":"Home","h":3.0},{"d":"May 18","m":"Home","h":3.3},{"d":"May 18","m":"Home","h":3.6},{"d":"May 18","m":"Home","h":3.8},{"d":"May 18","m":"Home","h":5.1},{"d":"May 18","m":"Home","h":5.4},{"d":"May 18","m":"Home","h":5.7},{"d":"May 18","m":"Home","h":6.0},{"d":"May 18","m":"Home","h":6.3},{"d":"May 18","m":"Home","h":6.6},{"d":"May 18","m":"Home","h":6.9},{"d":"May 18","m":"Home","h":7.1},{"d":"May 18","m":"Home","h":7.3},
{"d":"May 22","m":"Work","h":11.2},{"d":"May 22","m":"Work","h":11.6},{"d":"May 22","m":"Work","h":12.6},{"d":"May 22","m":"Work","h":13.0},{"d":"May 22","m":"Work","h":13.7},{"d":"May 22","m":"Work","h":20.2},
{"d":"May 22","m":"Other","h":0.2},{"d":"May 22","m":"Other","h":0.8},{"d":"May 22","m":"Other","h":1.6},{"d":"May 22","m":"Other","h":2.5},{"d":"May 22","m":"Other","h":3.3},{"d":"May 22","m":"Other","h":4.1},{"d":"May 22","m":"Other","h":4.9},{"d":"May 22","m":"Other","h":6.0},{"d":"May 22","m":"Other","h":6.3},{"d":"May 22","m":"Other","h":6.6},{"d":"May 22","m":"Other","h":6.9},{"d":"May 22","m":"Other","h":7.2},{"d":"May 22","m":"Other","h":7.5},{"d":"May 22","m":"Other","h":7.8},{"d":"May 22","m":"Other","h":8.1},{"d":"May 22","m":"Other","h":8.4},{"d":"May 22","m":"Other","h":8.7},{"d":"May 22","m":"Other","h":9.0},{"d":"May 22","m":"Other","h":9.3},{"d":"May 22","m":"Other","h":9.8},{"d":"May 22","m":"Other","h":10.7},{"d":"May 22","m":"Other","h":11.1},{"d":"May 22","m":"Other","h":12.2},{"d":"May 22","m":"Other","h":13.3},{"d":"May 22","m":"Other","h":14.2},{"d":"May 22","m":"Other","h":14.5},{"d":"May 22","m":"Other","h":14.8},{"d":"May 22","m":"Other","h":15.1},{"d":"May 22","m":"Other","h":15.4},{"d":"May 22","m":"Other","h":15.7},{"d":"May 22","m":"Other","h":16.0},{"d":"May 22","m":"Other","h":16.3},{"d":"May 22","m":"Other","h":16.6},{"d":"May 22","m":"Other","h":16.9},{"d":"May 22","m":"Other","h":17.2},{"d":"May 22","m":"Other","h":17.5},{"d":"May 22","m":"Other","h":17.8},{"d":"May 22","m":"Other","h":18.1},{"d":"May 22","m":"Other","h":18.4},{"d":"May 22","m":"Other","h":18.7},{"d":"May 22","m":"Other","h":19.0},{"d":"May 22","m":"Other","h":19.3},{"d":"May 22","m":"Other","h":19.6},{"d":"May 22","m":"Other","h":19.9},{"d":"May 22","m":"Other","h":20.2},{"d":"May 22","m":"Other","h":20.5},{"d":"May 22","m":"Other","h":21.0},{"d":"May 22","m":"Other","h":21.6},{"d":"May 22","m":"Other","h":23.4},
{"d":"May 22","m":"Home","h":1.3},{"d":"May 22","m":"Home","h":3.1},{"d":"May 22","m":"Home","h":3.8},{"d":"May 22","m":"Home","h":4.6},{"d":"May 22","m":"Home","h":5.6},{"d":"May 22","m":"Home","h":6.0},{"d":"May 22","m":"Home","h":9.0},{"d":"May 22","m":"Home","h":9.4},{"d":"May 22","m":"Home","h":9.8},{"d":"May 22","m":"Home","h":10.3},{"d":"May 22","m":"Home","h":21.0},{"d":"May 22","m":"Home","h":21.4},{"d":"May 22","m":"Home","h":21.8},{"d":"May 22","m":"Home","h":22.2},{"d":"May 22","m":"Home","h":22.6},{"d":"May 22","m":"Home","h":23.0},
{"d":"May 24","m":"Work","h":13.5},
{"d":"May 24","m":"Other","h":0.7},{"d":"May 24","m":"Other","h":1.3},{"d":"May 24","m":"Other","h":2.5},{"d":"May 24","m":"Other","h":3.8},{"d":"May 24","m":"Other","h":4.3},{"d":"May 24","m":"Other","h":5.3},{"d":"May 24","m":"Other","h":5.6},{"d":"May 24","m":"Other","h":5.9},{"d":"May 24","m":"Other","h":6.2},{"d":"May 24","m":"Other","h":6.6},{"d":"May 24","m":"Other","h":7.1},{"d":"May 24","m":"Other","h":8.0},{"d":"May 24","m":"Other","h":8.4},{"d":"May 24","m":"Other","h":8.8},{"d":"May 24","m":"Other","h":9.1},{"d":"May 24","m":"Other","h":11.1},{"d":"May 24","m":"Other","h":11.4},{"d":"May 24","m":"Other","h":11.7},{"d":"May 24","m":"Other","h":12.0},{"d":"May 24","m":"Other","h":12.3},{"d":"May 24","m":"Other","h":12.6},{"d":"May 24","m":"Other","h":12.9},{"d":"May 24","m":"Other","h":13.2},{"d":"May 24","m":"Other","h":13.5},{"d":"May 24","m":"Other","h":13.8},{"d":"May 24","m":"Other","h":14.1},{"d":"May 24","m":"Other","h":14.4},{"d":"May 24","m":"Other","h":14.7},{"d":"May 24","m":"Other","h":15.0},{"d":"May 24","m":"Other","h":15.3},{"d":"May 24","m":"Other","h":15.6},{"d":"May 24","m":"Other","h":15.9},{"d":"May 24","m":"Other","h":16.2},{"d":"May 24","m":"Other","h":16.5},{"d":"May 24","m":"Other","h":16.8},{"d":"May 24","m":"Other","h":17.1},{"d":"May 24","m":"Other","h":17.4},{"d":"May 24","m":"Other","h":17.7},{"d":"May 24","m":"Other","h":18.0},{"d":"May 24","m":"Other","h":18.3},{"d":"May 24","m":"Other","h":18.6},{"d":"May 24","m":"Other","h":18.9},{"d":"May 24","m":"Other","h":19.2},{"d":"May 24","m":"Other","h":19.5},{"d":"May 24","m":"Other","h":19.8},{"d":"May 24","m":"Other","h":20.1},{"d":"May 24","m":"Other","h":20.4},{"d":"May 24","m":"Other","h":20.7},{"d":"May 24","m":"Other","h":21.0},{"d":"May 24","m":"Other","h":21.3},{"d":"May 24","m":"Other","h":21.6},{"d":"May 24","m":"Other","h":22.0},{"d":"May 24","m":"Other","h":23.6},
{"d":"May 24","m":"Home","h":0.0},{"d":"May 24","m":"Home","h":0.5},{"d":"May 24","m":"Home","h":1.8},{"d":"May 24","m":"Home","h":2.3},{"d":"May 24","m":"Home","h":2.8},{"d":"May 24","m":"Home","h":3.1},{"d":"May 24","m":"Home","h":3.4},{"d":"May 24","m":"Home","h":3.7},{"d":"May 24","m":"Home","h":4.7},{"d":"May 24","m":"Home","h":5.3},{"d":"May 24","m":"Home","h":6.6},{"d":"May 24","m":"Home","h":21.6},{"d":"May 24","m":"Home","h":22.0},{"d":"May 24","m":"Home","h":22.4},{"d":"May 24","m":"Home","h":22.8},{"d":"May 24","m":"Home","h":23.3}
]},
"vconcat":[{
"title":{"text":"Hour","orient":"bottom","anchor":"middle","font":"Liberation Sans","fontSize":29,"fontWeight":"normal","color":"black","offset":14},
"columns":4,
"spacing":{"row":7,"column":19},
"concat":[
{"transform":[{"filter":{"field":"d","equal":"May 1"}}],"width":237,"height":127,"layer":[
 {"mark":{"type":"point","shape":"circle","filled":false,"size":46,"strokeWidth":1.5,"color":"#1a476f","opacity":1},"encoding":{"x":{"field":"h","type":"quantitative","scale":{"domain":[-1.2,25],"nice":false,"zero":false},"axis":null},"y":{"field":"m","type":"nominal","scale":{"type":"point","domain":["Work","Other","Home"],"padding":0.2},"axis":{"title":null,"grid":true,"labelAngle":-90,"labelFontSize":17,"labelPadding":5}}}},
 {"transform":[{"aggregate":[{"op":"count","as":"n"}],"groupby":["d"]}],"layer":[
  {"mark":{"type":"rect","color":"#d9e6eb"},"encoding":{"x":{"datum":-1.2,"type":"quantitative","axis":null},"x2":{"datum":25},"y":{"datum":1,"type":"quantitative","scale":{"domain":[0,1],"nice":false},"axis":null},"y2":{"datum":1.205}}},
  {"mark":{"type":"text","fontSize":18,"color":"black","font":"Liberation Sans"},"encoding":{"text":{"field":"d"},"x":{"datum":11.9,"type":"quantitative","axis":null},"y":{"datum":1.1025,"type":"quantitative"}}}]}],
 "resolve":{"scale":{"y":"independent"}}},
{"transform":[{"filter":{"field":"d","equal":"May 2"}}],"width":237,"height":127,"layer":[
 {"mark":{"type":"point","shape":"circle","filled":false,"size":46,"strokeWidth":1.5,"color":"#1a476f","opacity":1},"encoding":{"x":{"field":"h","type":"quantitative","scale":{"domain":[-1.2,25],"nice":false,"zero":false},"axis":null},"y":{"field":"m","type":"nominal","scale":{"type":"point","domain":["Work","Other","Home"],"padding":0.2},"axis":{"title":null,"grid":true,"labels":false,"ticks":false,"domain":false}}}},
 {"transform":[{"aggregate":[{"op":"count","as":"n"}],"groupby":["d"]}],"layer":[
  {"mark":{"type":"rect","color":"#d9e6eb"},"encoding":{"x":{"datum":-1.2,"type":"quantitative","axis":null},"x2":{"datum":25},"y":{"datum":1,"type":"quantitative","scale":{"domain":[0,1],"nice":false},"axis":null},"y2":{"datum":1.205}}},
  {"mark":{"type":"text","fontSize":18,"color":"black","font":"Liberation Sans"},"encoding":{"text":{"field":"d"},"x":{"datum":11.9,"type":"quantitative","axis":null},"y":{"datum":1.1025,"type":"quantitative"}}}]}],
 "resolve":{"scale":{"y":"independent"}}},
{"transform":[{"filter":{"field":"d","equal":"May 3"}}],"width":237,"height":127,"layer":[
 {"mark":{"type":"point","shape":"circle","filled":false,"size":46,"strokeWidth":1.5,"color":"#1a476f","opacity":1},"encoding":{"x":{"field":"h","type":"quantitative","scale":{"domain":[-1.2,25],"nice":false,"zero":false},"axis":null},"y":{"field":"m","type":"nominal","scale":{"type":"point","domain":["Work","Other","Home"],"padding":0.2},"axis":{"title":null,"grid":true,"labels":false,"ticks":false,"domain":false}}}},
 {"transform":[{"aggregate":[{"op":"count","as":"n"}],"groupby":["d"]}],"layer":[
  {"mark":{"type":"rect","color":"#d9e6eb"},"encoding":{"x":{"datum":-1.2,"type":"quantitative","axis":null},"x2":{"datum":25},"y":{"datum":1,"type":"quantitative","scale":{"domain":[0,1],"nice":false},"axis":null},"y2":{"datum":1.205}}},
  {"mark":{"type":"text","fontSize":18,"color":"black","font":"Liberation Sans"},"encoding":{"text":{"field":"d"},"x":{"datum":11.9,"type":"quantitative","axis":null},"y":{"datum":1.1025,"type":"quantitative"}}}]}],
 "resolve":{"scale":{"y":"independent"}}},
{"transform":[{"filter":{"field":"d","equal":"May 4"}}],"width":237,"height":127,"layer":[
 {"mark":{"type":"point","shape":"circle","filled":false,"size":46,"strokeWidth":1.5,"color":"#1a476f","opacity":1},"encoding":{"x":{"field":"h","type":"quantitative","scale":{"domain":[-1.2,25],"nice":false,"zero":false},"axis":null},"y":{"field":"m","type":"nominal","scale":{"type":"point","domain":["Work","Other","Home"],"padding":0.2},"axis":{"title":null,"grid":true,"labels":false,"ticks":false,"domain":false}}}},
 {"transform":[{"aggregate":[{"op":"count","as":"n"}],"groupby":["d"]}],"layer":[
  {"mark":{"type":"rect","color":"#d9e6eb"},"encoding":{"x":{"datum":-1.2,"type":"quantitative","axis":null},"x2":{"datum":25},"y":{"datum":1,"type":"quantitative","scale":{"domain":[0,1],"nice":false},"axis":null},"y2":{"datum":1.205}}},
  {"mark":{"type":"text","fontSize":18,"color":"black","font":"Liberation Sans"},"encoding":{"text":{"field":"d"},"x":{"datum":11.9,"type":"quantitative","axis":null},"y":{"datum":1.1025,"type":"quantitative"}}}]}],
 "resolve":{"scale":{"y":"independent"}}},
{"transform":[{"filter":{"field":"d","equal":"May 8"}}],"width":237,"height":127,"layer":[
 {"mark":{"type":"point","shape":"circle","filled":false,"size":46,"strokeWidth":1.5,"color":"#1a476f","opacity":1},"encoding":{"x":{"field":"h","type":"quantitative","scale":{"domain":[-1.2,25],"nice":false,"zero":false},"axis":null},"y":{"field":"m","type":"nominal","scale":{"type":"point","domain":["Work","Other","Home"],"padding":0.2},"axis":{"title":null,"grid":true,"labelAngle":-90,"labelFontSize":17,"labelPadding":5}}}},
 {"transform":[{"aggregate":[{"op":"count","as":"n"}],"groupby":["d"]}],"layer":[
  {"mark":{"type":"rect","color":"#d9e6eb"},"encoding":{"x":{"datum":-1.2,"type":"quantitative","axis":null},"x2":{"datum":25},"y":{"datum":1,"type":"quantitative","scale":{"domain":[0,1],"nice":false},"axis":null},"y2":{"datum":1.205}}},
  {"mark":{"type":"text","fontSize":18,"color":"black","font":"Liberation Sans"},"encoding":{"text":{"field":"d"},"x":{"datum":11.9,"type":"quantitative","axis":null},"y":{"datum":1.1025,"type":"quantitative"}}}]}],
 "resolve":{"scale":{"y":"independent"}}},
{"transform":[{"filter":{"field":"d","equal":"May 9"}}],"width":237,"height":127,"layer":[
 {"mark":{"type":"point","shape":"circle","filled":false,"size":46,"strokeWidth":1.5,"color":"#1a476f","opacity":1},"encoding":{"x":{"field":"h","type":"quantitative","scale":{"domain":[-1.2,25],"nice":false,"zero":false},"axis":null},"y":{"field":"m","type":"nominal","scale":{"type":"point","domain":["Work","Other","Home"],"padding":0.2},"axis":{"title":null,"grid":true,"labels":false,"ticks":false,"domain":false}}}},
 {"transform":[{"aggregate":[{"op":"count","as":"n"}],"groupby":["d"]}],"layer":[
  {"mark":{"type":"rect","color":"#d9e6eb"},"encoding":{"x":{"datum":-1.2,"type":"quantitative","axis":null},"x2":{"datum":25},"y":{"datum":1,"type":"quantitative","scale":{"domain":[0,1],"nice":false},"axis":null},"y2":{"datum":1.205}}},
  {"mark":{"type":"text","fontSize":18,"color":"black","font":"Liberation Sans"},"encoding":{"text":{"field":"d"},"x":{"datum":11.9,"type":"quantitative","axis":null},"y":{"datum":1.1025,"type":"quantitative"}}}]}],
 "resolve":{"scale":{"y":"independent"}}},
{"transform":[{"filter":{"field":"d","equal":"May 10"}}],"width":237,"height":127,"layer":[
 {"mark":{"type":"point","shape":"circle","filled":false,"size":46,"strokeWidth":1.5,"color":"#1a476f","opacity":1},"encoding":{"x":{"field":"h","type":"quantitative","scale":{"domain":[-1.2,25],"nice":false,"zero":false},"axis":null},"y":{"field":"m","type":"nominal","scale":{"type":"point","domain":["Work","Other","Home"],"padding":0.2},"axis":{"title":null,"grid":true,"labels":false,"ticks":false,"domain":false}}}},
 {"transform":[{"aggregate":[{"op":"count","as":"n"}],"groupby":["d"]}],"layer":[
  {"mark":{"type":"rect","color":"#d9e6eb"},"encoding":{"x":{"datum":-1.2,"type":"quantitative","axis":null},"x2":{"datum":25},"y":{"datum":1,"type":"quantitative","scale":{"domain":[0,1],"nice":false},"axis":null},"y2":{"datum":1.205}}},
  {"mark":{"type":"text","fontSize":18,"color":"black","font":"Liberation Sans"},"encoding":{"text":{"field":"d"},"x":{"datum":11.9,"type":"quantitative","axis":null},"y":{"datum":1.1025,"type":"quantitative"}}}]}],
 "resolve":{"scale":{"y":"independent"}}},
{"transform":[{"filter":{"field":"d","equal":"May 11"}}],"width":237,"height":127,"layer":[
 {"mark":{"type":"point","shape":"circle","filled":false,"size":46,"strokeWidth":1.5,"color":"#1a476f","opacity":1},"encoding":{"x":{"field":"h","type":"quantitative","scale":{"domain":[-1.2,25],"nice":false,"zero":false},"axis":null},"y":{"field":"m","type":"nominal","scale":{"type":"point","domain":["Work","Other","Home"],"padding":0.2},"axis":{"title":null,"grid":true,"labels":false,"ticks":false,"domain":false}}}},
 {"transform":[{"aggregate":[{"op":"count","as":"n"}],"groupby":["d"]}],"layer":[
  {"mark":{"type":"rect","color":"#d9e6eb"},"encoding":{"x":{"datum":-1.2,"type":"quantitative","axis":null},"x2":{"datum":25},"y":{"datum":1,"type":"quantitative","scale":{"domain":[0,1],"nice":false},"axis":null},"y2":{"datum":1.205}}},
  {"mark":{"type":"text","fontSize":18,"color":"black","font":"Liberation Sans"},"encoding":{"text":{"field":"d"},"x":{"datum":11.9,"type":"quantitative","axis":null},"y":{"datum":1.1025,"type":"quantitative"}}}]}],
 "resolve":{"scale":{"y":"independent"}}},
{"transform":[{"filter":{"field":"d","equal":"May 15"}}],"width":237,"height":127,"layer":[
 {"mark":{"type":"point","shape":"circle","filled":false,"size":46,"strokeWidth":1.5,"color":"#1a476f","opacity":1},"encoding":{"x":{"field":"h","type":"quantitative","scale":{"domain":[-1.2,25],"nice":false,"zero":false},"axis":null},"y":{"field":"m","type":"nominal","scale":{"type":"point","domain":["Work","Other","Home"],"padding":0.2},"axis":{"title":null,"grid":true,"labelAngle":-90,"labelFontSize":17,"labelPadding":5}}}},
 {"transform":[{"aggregate":[{"op":"count","as":"n"}],"groupby":["d"]}],"layer":[
  {"mark":{"type":"rect","color":"#d9e6eb"},"encoding":{"x":{"datum":-1.2,"type":"quantitative","axis":null},"x2":{"datum":25},"y":{"datum":1,"type":"quantitative","scale":{"domain":[0,1],"nice":false},"axis":null},"y2":{"datum":1.205}}},
  {"mark":{"type":"text","fontSize":18,"color":"black","font":"Liberation Sans"},"encoding":{"text":{"field":"d"},"x":{"datum":11.9,"type":"quantitative","axis":null},"y":{"datum":1.1025,"type":"quantitative"}}}]}],
 "resolve":{"scale":{"y":"independent"}}},
{"transform":[{"filter":{"field":"d","equal":"May 16"}}],"width":237,"height":127,"layer":[
 {"mark":{"type":"point","shape":"circle","filled":false,"size":46,"strokeWidth":1.5,"color":"#1a476f","opacity":1},"encoding":{"x":{"field":"h","type":"quantitative","scale":{"domain":[-1.2,25],"nice":false,"zero":false},"axis":null},"y":{"field":"m","type":"nominal","scale":{"type":"point","domain":["Work","Other","Home"],"padding":0.2},"axis":{"title":null,"grid":true,"labels":false,"ticks":false,"domain":false}}}},
 {"transform":[{"aggregate":[{"op":"count","as":"n"}],"groupby":["d"]}],"layer":[
  {"mark":{"type":"rect","color":"#d9e6eb"},"encoding":{"x":{"datum":-1.2,"type":"quantitative","axis":null},"x2":{"datum":25},"y":{"datum":1,"type":"quantitative","scale":{"domain":[0,1],"nice":false},"axis":null},"y2":{"datum":1.205}}},
  {"mark":{"type":"text","fontSize":18,"color":"black","font":"Liberation Sans"},"encoding":{"text":{"field":"d"},"x":{"datum":11.9,"type":"quantitative","axis":null},"y":{"datum":1.1025,"type":"quantitative"}}}]}],
 "resolve":{"scale":{"y":"independent"}}},
{"transform":[{"filter":{"field":"d","equal":"May 17"}}],"width":237,"height":127,"layer":[
 {"mark":{"type":"point","shape":"circle","filled":false,"size":46,"strokeWidth":1.5,"color":"#1a476f","opacity":1},"encoding":{"x":{"field":"h","type":"quantitative","scale":{"domain":[-1.2,25],"nice":false,"zero":false},"axis":{"title":null,"grid":false,"values":[0,2,4,6,8,10,12,14,16,18,20,22],"labelFontSize":13,"minExtent":34}},"y":{"field":"m","type":"nominal","scale":{"type":"point","domain":["Work","Other","Home"],"padding":0.2},"axis":{"title":null,"grid":true,"labels":false,"ticks":false,"domain":false}}}},
 {"transform":[{"aggregate":[{"op":"count","as":"n"}],"groupby":["d"]}],"layer":[
  {"mark":{"type":"rect","color":"#d9e6eb"},"encoding":{"x":{"datum":-1.2,"type":"quantitative","axis":{"title":null,"grid":false,"values":[0,2,4,6,8,10,12,14,16,18,20,22],"labelFontSize":13,"minExtent":34}},"x2":{"datum":25},"y":{"datum":1,"type":"quantitative","scale":{"domain":[0,1],"nice":false},"axis":null},"y2":{"datum":1.205}}},
  {"mark":{"type":"text","fontSize":18,"color":"black","font":"Liberation Sans"},"encoding":{"text":{"field":"d"},"x":{"datum":11.9,"type":"quantitative","axis":{"title":null,"grid":false,"values":[0,2,4,6,8,10,12,14,16,18,20,22],"labelFontSize":13,"minExtent":34}},"y":{"datum":1.1025,"type":"quantitative"}}}]}],
 "resolve":{"scale":{"y":"independent"}}},
{"transform":[{"filter":{"field":"d","equal":"May 18"}}],"width":237,"height":127,"layer":[
 {"mark":{"type":"point","shape":"circle","filled":false,"size":46,"strokeWidth":1.5,"color":"#1a476f","opacity":1},"encoding":{"x":{"field":"h","type":"quantitative","scale":{"domain":[-1.2,25],"nice":false,"zero":false},"axis":{"title":null,"grid":false,"values":[0,2,4,6,8,10,12,14,16,18,20,22],"labelFontSize":13,"minExtent":34}},"y":{"field":"m","type":"nominal","scale":{"type":"point","domain":["Work","Other","Home"],"padding":0.2},"axis":{"title":null,"grid":true,"labels":false,"ticks":false,"domain":false}}}},
 {"transform":[{"aggregate":[{"op":"count","as":"n"}],"groupby":["d"]}],"layer":[
  {"mark":{"type":"rect","color":"#d9e6eb"},"encoding":{"x":{"datum":-1.2,"type":"quantitative","axis":{"title":null,"grid":false,"values":[0,2,4,6,8,10,12,14,16,18,20,22],"labelFontSize":13,"minExtent":34}},"x2":{"datum":25},"y":{"datum":1,"type":"quantitative","scale":{"domain":[0,1],"nice":false},"axis":null},"y2":{"datum":1.205}}},
  {"mark":{"type":"text","fontSize":18,"color":"black","font":"Liberation Sans"},"encoding":{"text":{"field":"d"},"x":{"datum":11.9,"type":"quantitative","axis":{"title":null,"grid":false,"values":[0,2,4,6,8,10,12,14,16,18,20,22],"labelFontSize":13,"minExtent":34}},"y":{"datum":1.1025,"type":"quantitative"}}}]}],
 "resolve":{"scale":{"y":"independent"}}},
{"transform":[{"filter":{"field":"d","equal":"May 22"}}],"width":237,"height":127,"layer":[
 {"mark":{"type":"point","shape":"circle","filled":false,"size":46,"strokeWidth":1.5,"color":"#1a476f","opacity":1},"encoding":{"x":{"field":"h","type":"quantitative","scale":{"domain":[-1.2,25],"nice":false,"zero":false},"axis":{"title":null,"grid":false,"values":[0,2,4,6,8,10,12,14,16,18,20,22],"labelFontSize":13}},"y":{"field":"m","type":"nominal","scale":{"type":"point","domain":["Work","Other","Home"],"padding":0.2},"axis":{"title":null,"grid":true,"labelAngle":-90,"labelFontSize":17,"labelPadding":5}}}},
 {"transform":[{"aggregate":[{"op":"count","as":"n"}],"groupby":["d"]}],"layer":[
  {"mark":{"type":"rect","color":"#d9e6eb"},"encoding":{"x":{"datum":-1.2,"type":"quantitative","axis":{"title":null,"grid":false,"values":[0,2,4,6,8,10,12,14,16,18,20,22],"labelFontSize":13}},"x2":{"datum":25},"y":{"datum":1,"type":"quantitative","scale":{"domain":[0,1],"nice":false},"axis":null},"y2":{"datum":1.205}}},
  {"mark":{"type":"text","fontSize":18,"color":"black","font":"Liberation Sans"},"encoding":{"text":{"field":"d"},"x":{"datum":11.9,"type":"quantitative","axis":{"title":null,"grid":false,"values":[0,2,4,6,8,10,12,14,16,18,20,22],"labelFontSize":13}},"y":{"datum":1.1025,"type":"quantitative"}}}]}],
 "resolve":{"scale":{"y":"independent"}}},
{"transform":[{"filter":{"field":"d","equal":"May 24"}}],"width":237,"height":127,"layer":[
 {"mark":{"type":"point","shape":"circle","filled":false,"size":46,"strokeWidth":1.5,"color":"#1a476f","opacity":1},"encoding":{"x":{"field":"h","type":"quantitative","scale":{"domain":[-1.2,25],"nice":false,"zero":false},"axis":{"title":null,"grid":false,"values":[0,2,4,6,8,10,12,14,16,18,20,22],"labelFontSize":13}},"y":{"field":"m","type":"nominal","scale":{"type":"point","domain":["Work","Other","Home"],"padding":0.2},"axis":{"title":null,"grid":true,"labels":false,"ticks":false,"domain":false}}}},
 {"transform":[{"aggregate":[{"op":"count","as":"n"}],"groupby":["d"]}],"layer":[
  {"mark":{"type":"rect","color":"#d9e6eb"},"encoding":{"x":{"datum":-1.2,"type":"quantitative","axis":{"title":null,"grid":false,"values":[0,2,4,6,8,10,12,14,16,18,20,22],"labelFontSize":13}},"x2":{"datum":25},"y":{"datum":1,"type":"quantitative","scale":{"domain":[0,1],"nice":false},"axis":null},"y2":{"datum":1.205}}},
  {"mark":{"type":"text","fontSize":18,"color":"black","font":"Liberation Sans"},"encoding":{"text":{"field":"d"},"x":{"datum":11.9,"type":"quantitative","axis":{"title":null,"grid":false,"values":[0,2,4,6,8,10,12,14,16,18,20,22],"labelFontSize":13}},"y":{"datum":1.1025,"type":"quantitative"}}}]}],
 "resolve":{"scale":{"y":"independent"}}}
]}],
"config":{"view":{"stroke":null},"font":"Liberation Sans","axis":{"labelFont":"Liberation Sans","labelColor":"black","tickColor":"black","domainColor":"black","tickSize":5,"tickWidth":1,"domainWidth":1,"gridColor":"#eaf2f3","gridWidth":1.5}}
}
